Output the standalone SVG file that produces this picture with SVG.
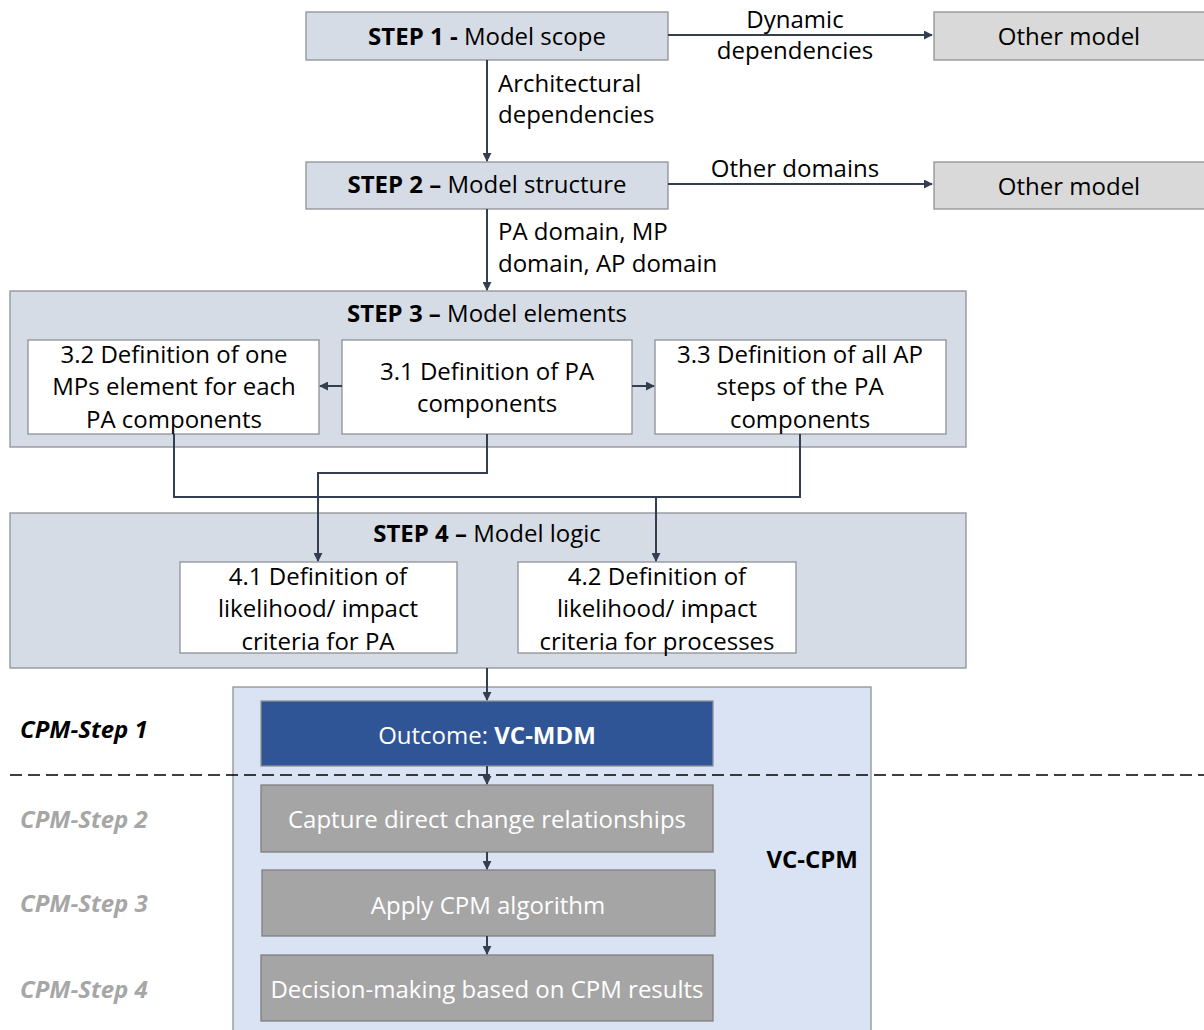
<svg xmlns="http://www.w3.org/2000/svg" width="1204" height="1030" viewBox="0 0 1204 1030">
  <style>
    text { font-family: "Open Sans", "Liberation Sans", sans-serif; font-size: 24px; fill: #000; }
    .c { text-anchor: middle; }
    .b { font-weight: bold; }
    .step { fill: #d6dce5; stroke: #8e9196; stroke-width: 1.3; }
    .other { fill: #d9d9d9; stroke: #8e9196; stroke-width: 1.3; }
    .inner { fill: #ffffff; stroke: #8e9196; stroke-width: 1.3; }
    .cpm { fill: #dae3f3; stroke: #8e9196; stroke-width: 1.3; }
    .outcome { fill: #2f5597; stroke: #8e9196; stroke-width: 1.3; }
    .grey { fill: #a5a5a5; stroke: #7f7f7f; stroke-width: 1.3; }
    .wt { fill: #ffffff; }
    .side { font-style: italic; font-weight: bold; }
    .faded { fill: #a6a6a6; }
    .conn { fill: none; stroke: #333f50; stroke-width: 2; }
  </style>
  <defs>
    <marker id="arr" viewBox="0 0 10 10" refX="9" refY="5" markerWidth="4.5" markerHeight="4.5" orient="auto">
      <path d="M0,0 L10,5 L0,10 z" fill="#333f50"/>
    </marker>
  </defs>

  <rect width="1204" height="1030" fill="#ffffff"/>

  <!-- CPM container (drawn first, behind its boxes) -->
  <g id="vc-cpm">
    <rect class="cpm" x="233" y="687" width="638" height="350"/>
    <text class="b" x="858" y="868" text-anchor="end">VC-CPM</text>
  </g>

  <g id="step1">
    <rect class="step" x="306" y="12" width="362" height="48"/>
    <text class="c" x="487" y="45"><tspan class="b">STEP 1 -</tspan> Model scope</text>
  </g>
  <g id="other-model-1">
    <rect class="other" x="934" y="12" width="272" height="48"/>
    <text class="c" x="1069" y="45">Other model</text>
  </g>
  <g id="step2">
    <rect class="step" x="306" y="162" width="362" height="47"/>
    <text class="c" x="487" y="193"><tspan class="b">STEP 2 –</tspan> Model structure</text>
  </g>
  <g id="other-model-2">
    <rect class="other" x="934" y="162" width="272" height="47"/>
    <text class="c" x="1069" y="195">Other model</text>
  </g>

  <g id="step3">
    <rect class="step" x="10" y="291" width="956" height="156"/>
    <text class="c" x="487" y="322"><tspan class="b">STEP 3 –</tspan> Model elements</text>
  </g>
  <g id="step3-2">
    <rect class="inner" x="28" y="340" width="291" height="94"/>
    <text class="c" x="174" y="363">3.2 Definition of one</text>
    <text class="c" x="174" y="395">MPs element for each</text>
    <text class="c" x="174" y="428">PA components</text>
  </g>
  <g id="step3-1">
    <rect class="inner" x="342" y="340" width="290" height="94"/>
    <text class="c" x="487" y="380">3.1 Definition of PA</text>
    <text class="c" x="487" y="412">components</text>
  </g>
  <g id="step3-3">
    <rect class="inner" x="655" y="340" width="291" height="94"/>
    <text class="c" x="800" y="363">3.3 Definition of all AP</text>
    <text class="c" x="800" y="395">steps of the PA</text>
    <text class="c" x="800" y="428">components</text>
  </g>

  <g id="step4">
    <rect class="step" x="10" y="513" width="956" height="155"/>
    <text class="c" x="487" y="542"><tspan class="b">STEP 4 –</tspan> Model logic</text>
  </g>
  <g id="step4-1">
    <rect class="inner" x="180" y="562" width="277" height="91"/>
    <text class="c" x="318" y="585">4.1 Definition of</text>
    <text class="c" x="318" y="617">likelihood/ impact</text>
    <text class="c" x="318" y="650">criteria for PA</text>
  </g>
  <g id="step4-2">
    <rect class="inner" x="518" y="562" width="278" height="91"/>
    <text class="c" x="657" y="585">4.2 Definition of</text>
    <text class="c" x="657" y="617">likelihood/ impact</text>
    <text class="c" x="657" y="650">criteria for processes</text>
  </g>

  <g id="outcome">
    <rect class="outcome" x="261" y="701" width="452" height="65"/>
    <text class="c wt" x="487" y="744">Outcome: <tspan class="b wt">VC-MDM</tspan></text>
  </g>
  <g id="capture">
    <rect class="grey" x="261" y="785" width="452" height="67"/>
    <text class="c wt" x="487" y="828">Capture direct change relationships</text>
  </g>
  <g id="apply">
    <rect class="grey" x="262" y="870" width="453" height="66"/>
    <text class="c wt" x="488" y="914">Apply CPM algorithm</text>
  </g>
  <g id="decision">
    <rect class="grey" x="261" y="955" width="452" height="66"/>
    <text class="c wt" x="487" y="998">Decision-making based on CPM results</text>
  </g>

  <!-- phase labels -->
  <g id="phase-labels">
    <text class="side" x="20" y="738">CPM-Step 1</text>
    <text class="side faded" x="20" y="828">CPM-Step 2</text>
    <text class="side faded" x="20" y="912">CPM-Step 3</text>
    <text class="side faded" x="20" y="998">CPM-Step 4</text>
  </g>

  <!-- phase separator -->
  <line x1="10" y1="775" x2="1204" y2="775" stroke="#000" stroke-width="1.3" stroke-dasharray="12 6"/>

  <g id="connectors">
    <line class="conn" x1="668" y1="35" x2="932" y2="35" marker-end="url(#arr)"/>
    <line class="conn" x1="668" y1="184" x2="932" y2="184" marker-end="url(#arr)"/>
    <line class="conn" x1="487" y1="60" x2="487" y2="161" marker-end="url(#arr)"/>
    <line class="conn" x1="487" y1="209" x2="487" y2="290" marker-end="url(#arr)"/>
    <line class="conn" x1="342" y1="386" x2="320" y2="386" marker-end="url(#arr)"/>
    <line class="conn" x1="632" y1="386" x2="654" y2="386" marker-end="url(#arr)"/>
    <polyline class="conn" points="174,434 174,497 800,497 800,434"/>
    <polyline class="conn" points="487,434 487,473 318,473 318,561" marker-end="url(#arr)"/>
    <line class="conn" x1="656" y1="497" x2="656" y2="561" marker-end="url(#arr)"/>
    <line class="conn" x1="487" y1="668" x2="487" y2="700" marker-end="url(#arr)"/>
    <line class="conn" x1="487" y1="766" x2="487" y2="784" marker-end="url(#arr)"/>
    <line class="conn" x1="487" y1="852" x2="487" y2="869" marker-end="url(#arr)"/>
    <line class="conn" x1="487" y1="936" x2="487" y2="954" marker-end="url(#arr)"/>
  </g>

  <!-- connector labels -->
  <g id="connector-labels">
    <text class="c" x="795" y="28">Dynamic</text>
    <text class="c" x="795" y="59">dependencies</text>
    <text x="498" y="92">Architectural</text>
    <text x="498" y="123">dependencies</text>
    <text class="c" x="795" y="177">Other domains</text>
    <text x="498" y="240">PA domain, MP</text>
    <text x="498" y="272">domain, AP domain</text>
  </g>
</svg>
